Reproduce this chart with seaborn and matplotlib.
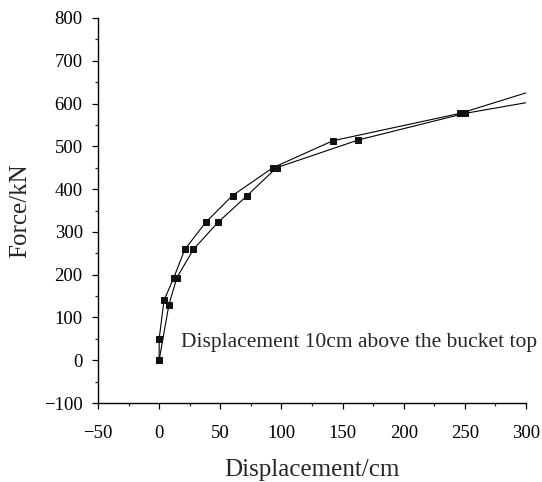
import matplotlib
matplotlib.use("Agg")
import matplotlib.pyplot as plt
from matplotlib.ticker import MultipleLocator
import seaborn as sns

# Two loading branches of the force–displacement response
disp_a = [0, 0, 4, 12, 21, 38, 60, 93, 142, 246, 300]
force_a = [0, 50, 140, 193, 259, 322, 385, 450, 513, 577, 625]
disp_b = [0, 8, 14.5, 28, 48, 72, 96, 163, 250, 300]
force_b = [0, 130, 193, 259, 322, 385, 450, 515, 577, 602]

x_ticks = [-50, 0, 50, 100, 150, 200, 250, 300]
y_ticks = [-100, 0, 100, 200, 300, 400, 500, 600, 700, 800]
note = "Displacement 10cm above the bucket top"

sns.set_style("ticks")
plt.rcParams["font.family"] = ["Liberation Serif", "DejaVu Serif"]
plt.rcParams["mathtext.fontset"] = "stix"

fig = plt.figure(figsize=(5.42, 4.82), dpi=100)
ax = fig.add_axes([98 / 542, 1 - 403 / 482, 428 / 542, 385 / 482])

for xs, ys in ((disp_a, force_a), (disp_b, force_b)):
    sns.lineplot(x=xs, y=ys, sort=False, estimator=None, ax=ax,
                 color="black", linewidth=0.8, marker="s", markersize=5,
                 markerfacecolor="#111111", markeredgecolor="#111111",
                 markevery=list(range(len(xs) - 1)))

ax.set_xlim(-50, 300)
ax.set_ylim(-100, 800)
ax.set_xticks(x_ticks)
ax.set_yticks(y_ticks)
ax.xaxis.set_minor_locator(MultipleLocator(25))
ax.yaxis.set_minor_locator(MultipleLocator(50))
ax.set_xticklabels(["\u221250" if t < 0 else str(t) for t in x_ticks])
ax.set_yticklabels(["\u2212100" if t < 0 else str(t) for t in y_ticks])
ax.tick_params(which="major", direction="out", length=4.5, width=0.9,
               labelsize=13.5, colors="black")
ax.tick_params(which="minor", direction="out", length=2, width=0.9)
ax.tick_params(axis="x", which="major", pad=11.5)
ax.tick_params(axis="y", which="major", pad=6.5)
for side in ("top", "right"):
    ax.spines[side].set_visible(False)
for side in ("left", "bottom"):
    ax.spines[side].set_linewidth(1.0)
    ax.spines[side].set_color("black")

ax.set_xlabel("Displacement/cm", fontsize=18, labelpad=12)
ax.set_ylabel("Force/kN", fontsize=18, labelpad=9)

ax.text(18, 42, note, fontsize=15.5, ha="left", va="center", clip_on=False)

fig.savefig("out.png", dpi=100)
